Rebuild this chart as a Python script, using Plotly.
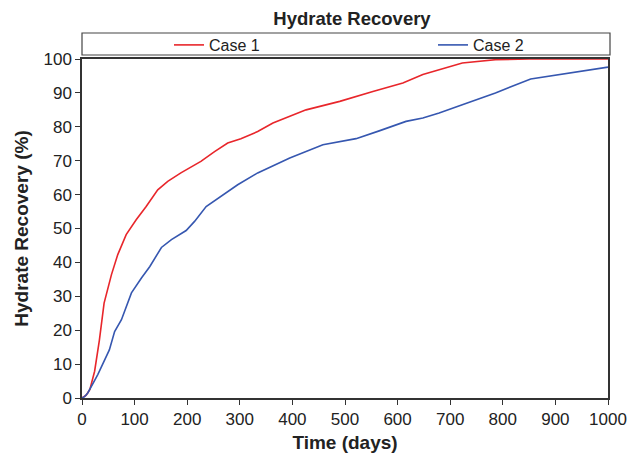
import plotly.graph_objects as go

case1_days = [0, 8, 15, 24, 33, 42, 56, 68, 84, 103, 122, 144, 163, 188, 226, 252, 277, 302, 334,
              363, 426, 490, 553, 610, 648, 679, 723, 786, 850, 1000]
case1_rec = [0, 0.8, 2.5, 7.9, 17, 28, 36.4, 42.3, 48.2, 52.6, 56.5, 61.4, 63.9, 66.4, 69.8, 72.7, 75.2, 76.5, 78.6,
             81.1, 85.0, 87.5, 90.4, 92.9, 95.4, 96.8, 98.8, 99.8, 100, 100]

case2_days = [0, 5, 11, 30, 52, 62, 75, 94, 113, 129, 151, 170, 198, 214, 236, 265, 296, 334,
              395, 458, 521, 565, 616, 648, 679, 723, 786, 853, 913, 995, 1000]
case2_rec = [0, 0.4, 1.5, 6.9, 14.2, 19.6, 23.1, 31.0, 35.4, 38.8, 44.4, 46.7, 49.4, 52.1, 56.5, 59.5, 62.9, 66.4,
             70.8, 74.7, 76.5, 78.8, 81.6, 82.6, 84.1, 86.5, 90.0, 94.1, 95.6, 97.5, 97.6]

x_ticks = list(range(0, 1001, 100))
y_ticks = list(range(0, 101, 10))

FONT = "Liberation Sans, Arial, sans-serif"
L, R, T, B = 82, 608, 59, 398
PW, PH = R - L, B - T

fig = go.Figure()
fig.add_trace(go.Scatter(x=case1_days, y=case1_rec, mode="lines", name="Case 1",
                         line=dict(color="#e8262b", width=1.6), legend="legend"))
fig.add_trace(go.Scatter(x=case2_days, y=case2_rec, mode="lines", name="Case 2",
                         line=dict(color="#3657b0", width=1.6), legend="legend2"))

axis_common = dict(showgrid=False, zeroline=False, showline=True, linecolor="#333333", linewidth=1.5,
                   mirror=True, ticks="outside", ticklen=5, tickwidth=1.2, tickcolor="#333333",
                   automargin=False,
                   tickfont=dict(family=FONT, size=17, color="#222222"))

fig.update_xaxes(range=[0, 1000], tickvals=x_ticks, ticktext=[str(v) for v in x_ticks],
                 title=dict(text="<b>Time (days)</b>", font=dict(family=FONT, size=19, color="#222222"), standoff=8),
                 **axis_common)
fig.update_yaxes(range=[0, 100], tickvals=y_ticks, ticktext=[str(v) for v in y_ticks],
                 title=dict(text="<b>Hydrate Recovery (%)</b>", font=dict(family=FONT, size=19, color="#222222"), standoff=10),
                 **axis_common)

leg_y = (B - 45) / PH
leg_common = dict(orientation="h", xanchor="left", y=leg_y, yanchor="middle",
                  font=dict(family=FONT, size=16, color="#222222"), bgcolor="rgba(0,0,0,0)",
                  borderwidth=0, itemwidth=30)

fig.update_layout(
    width=630, height=456,
    margin=dict(l=L, r=630 - R, t=T, b=456 - B, autoexpand=False),
    paper_bgcolor="white", plot_bgcolor="white",
    title=dict(text="<b>Hydrate Recovery</b>", x=352 / 630, xanchor="center",
               y=1 - 19 / 456, yanchor="middle", font=dict(family=FONT, size=18.5, color="#222222")),
    legend=dict(x=(169 - L) / PW, **leg_common),
    legend2=dict(x=(433 - L) / PW, **leg_common),
    showlegend=True,
    shapes=[dict(type="rect", xref="paper", yref="paper",
                 x0=0, x1=(610 - L) / PW, y0=(B - 55) / PH, y1=(B - 33) / PH,
                 line=dict(color="#444444", width=1.2), fillcolor="rgba(0,0,0,0)")],
)

fig.write_html("out.html")
